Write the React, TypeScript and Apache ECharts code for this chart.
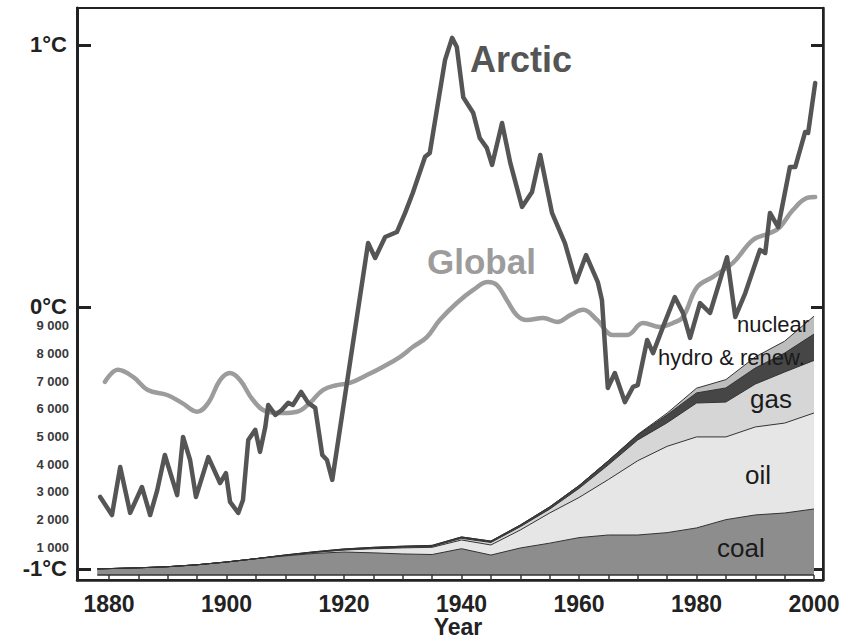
import React, { useEffect, useRef } from "react";
import * as echarts from "echarts";

// ---- Temperature anomalies (°C) ----
const arcticYears = [1878.5, 1880.5, 1881.9, 1883.6, 1885.6, 1887, 1888.2, 1889.5, 1891.6, 1892.6, 1893.8, 1894.8, 1896.9, 1898.9, 1899.9, 1900.6, 1902, 1902.8, 1903.7, 1904.9, 1905.7, 1906.6, 1907.1, 1908.3, 1909.4, 1910.5, 1911.3, 1912.7, 1913.9, 1915.1, 1916.3, 1917.1, 1918, 1924.1, 1925.3, 1927, 1929, 1930.4, 1931.7, 1933.8, 1934.6, 1937.2, 1938.4, 1939.2, 1940.3, 1942, 1943.1, 1944.3, 1945.2, 1946.9, 1948.3, 1950.3, 1952, 1953.4, 1955.4, 1957.6, 1959.5, 1961.2, 1963.2, 1963.9, 1964.9, 1966.1, 1967.8, 1969.2, 1970, 1971.6, 1972.6, 1974.3, 1976.3, 1977.7, 1978.9, 1980.6, 1982.3, 1985.2, 1986.6, 1988.3, 1990.8, 1991.7, 1992.5, 1993.9, 1995.9, 1996.8, 1998.5, 1999, 2000.2];
const arcticTemps = [-0.725, -0.794, -0.611, -0.786, -0.687, -0.794, -0.7, -0.565, -0.718, -0.496, -0.584, -0.725, -0.573, -0.672, -0.634, -0.744, -0.786, -0.737, -0.508, -0.469, -0.553, -0.458, -0.374, -0.412, -0.393, -0.366, -0.374, -0.324, -0.366, -0.385, -0.565, -0.584, -0.66, 0.244, 0.187, 0.267, 0.286, 0.359, 0.435, 0.573, 0.588, 0.943, 1.027, 0.992, 0.8, 0.74, 0.645, 0.607, 0.542, 0.702, 0.55, 0.382, 0.439, 0.58, 0.359, 0.244, 0.095, 0.198, 0.095, 0.027, -0.309, -0.252, -0.363, -0.305, -0.298, -0.126, -0.176, -0.076, 0.038, -0.023, -0.118, 0.015, -0.023, 0.19, -0.038, 0.053, 0.218, 0.206, 0.359, 0.305, 0.534, 0.534, 0.668, 0.664, 0.855];

const globalYears = [1879.3, 1881.5, 1884.1, 1886.6, 1889.9, 1892.4, 1895, 1896.9, 1898.9, 1900.6, 1902.3, 1904.5, 1906.9, 1909.6, 1912, 1914.2, 1916.4, 1918.8, 1921, 1923.9, 1926.6, 1929.5, 1931.7, 1934.1, 1936.3, 1939.2, 1942, 1944.5, 1946, 1947.7, 1949.4, 1951.1, 1953.9, 1956.3, 1958.5, 1960.7, 1963.1, 1965.8, 1968.2, 1970.9, 1973.8, 1976, 1977.7, 1980.1, 1982.8, 1986.2, 1989.6, 1992.5, 1994.2, 1996.4, 1998.8, 2000.2];
const globalTemps = [-0.286, -0.24, -0.267, -0.317, -0.336, -0.366, -0.4, -0.366, -0.279, -0.252, -0.279, -0.355, -0.4, -0.405, -0.4, -0.366, -0.317, -0.298, -0.29, -0.26, -0.229, -0.191, -0.153, -0.115, -0.05, 0.015, 0.065, 0.095, 0.084, 0.027, -0.031, -0.05, -0.042, -0.057, -0.031, -0.011, -0.05, -0.107, -0.107, -0.061, -0.076, -0.061, -0.038, 0.076, 0.115, 0.168, 0.256, 0.282, 0.305, 0.37, 0.416, 0.42];

// ---- World energy consumption by source ----
const energyYears = [1878, 1885, 1890, 1895, 1900, 1905, 1910, 1915, 1920, 1925, 1930, 1935, 1940, 1945, 1950, 1955, 1960, 1965, 1970, 1975, 1980, 1985, 1990, 1995, 2000];
const coal = [220, 260, 300, 370, 470, 590, 690, 780, 830, 800, 760, 740, 950, 720, 975, 1150, 1350, 1445, 1445, 1530, 1700, 2000, 2170, 2240, 2385];
const oil = [0, 0, 0, 0, 0, 0, 20, 40, 70, 150, 220, 260, 315, 365, 650, 1090, 1450, 2005, 2685, 3120, 3290, 2990, 3180, 3250, 3470];
const gas = [0, 0, 0, 0, 0, 0, 0, 0, 15, 20, 25, 30, 60, 90, 120, 140, 330, 530, 750, 850, 1225, 1260, 1550, 1845, 1900];
const hydro = [0, 0, 0, 0, 0, 0, 15, 20, 25, 30, 35, 40, 50, 50, 60, 80, 100, 150, 180, 290, 365, 510, 580, 685, 950];
const nuclear = [0, 0, 0, 0, 0, 0, 0, 0, 0, 0, 0, 0, 0, 0, 0, 0, 0, 0, 20, 60, 170, 300, 400, 430, 650];

const layerNames = ["coal", "oil", "gas", "hydro & renew.", "nuclear"];
const layerColors = ["#8d8d8d", "#e6e6e6", "#d6d6d6", "#464646", "#bdbdbd"];

// ---- Axis ticks / labels ----
const tempTicks = [-1, 0, 1];
const energyTicks = [1000, 2000, 3000, 4000, 5000, 6000, 7000, 8000, 9000];
const yearLabels = [1880, 1900, 1920, 1940, 1960, 1980, 2000];
const yearTicks = [1880, 1885, 1890, 1895, 1900, 1905, 1910, 1915, 1920, 1925, 1930, 1935, 1940, 1945, 1950, 1955, 1960, 1965, 1970, 1975, 1980, 1985, 1990, 1995, 2000];

const FONT = '"Liberation Sans", Arial, Helvetica, sans-serif';

export default function App() {
  const ref = useRef<HTMLDivElement>(null);

  useEffect(() => {
    document.body.style.margin = "0";
    if (!ref.current) return;
    const chart = echarts.init(ref.current, undefined, { renderer: "svg" });

    const layers = [coal, oil, gas, hydro, nuclear];
    const cumulative: number[][] = [];
    layers.forEach((arr, i) => {
      cumulative.push(arr.map((v, k) => v + (i > 0 ? cumulative[i - 1][k] : 0)));
    });

    const energySeries: any[] = [];
    for (let i = layers.length - 1; i >= 0; i--) {
      energySeries.push({
        name: layerNames[i],
        type: "line",
        xAxisIndex: 0,
        yAxisIndex: 1,
        data: energyYears.map((y, k) => [y, cumulative[i][k]]),
        symbol: "none",
        lineStyle: { color: "#333", width: 1 },
        areaStyle: { color: layerColors[i], opacity: 1 },
        z: 1,
        silent: true,
      });
    }
    energySeries.push({
      name: "base",
      type: "line",
      xAxisIndex: 0,
      yAxisIndex: 1,
      data: energyYears.map((y) => [y, 0]),
      symbol: "none",
      lineStyle: { color: "#333", width: 1.5 },
      z: 2,
      silent: true,
    });

    const textStyle = (
      text: string,
      x: number,
      y: number,
      font: string,
      fill: string,
      align = "left"
    ) => ({
      type: "text",
      x,
      y,
      z: 100,
      style: {
        text,
        fill,
        font,
        textAlign: align,
        textVerticalAlign: "middle",
      },
    });

    chart.setOption({
      animation: false,
      backgroundColor: "#ffffff",
      grid: {
        left: 77,
        right: 21,
        top: 8,
        bottom: 62,
        show: true,
        borderColor: "#222",
        borderWidth: 2,
        backgroundColor: "transparent",
      },
      xAxis: {
        type: "value",
        min: 1874.55,
        max: 2001.53,
        axisLine: { show: true, onZero: false, lineStyle: { color: "#222", width: 2.5 } },
        axisTick: {
          show: true,
          inside: true,
          length: 5,
          customValues: yearTicks,
          lineStyle: { color: "#333", width: 1.5 },
        },
        axisLabel: {
          customValues: yearLabels,
          formatter: (v: number) => String(v),
          fontSize: 23,
          fontWeight: "bold",
          fontFamily: FONT,
          color: "#222",
          margin: 12,
        },
        splitLine: { show: false },
      },
      yAxis: [
        {
          type: "value",
          min: -1.042,
          max: 1.141,
          position: "left",
          axisLine: { show: true, onZero: false, lineStyle: { color: "#222", width: 3 } },
          axisTick: {
            show: true,
            inside: true,
            length: 14,
            customValues: tempTicks,
            lineStyle: { color: "#222", width: 3 },
          },
          axisLabel: {
            customValues: tempTicks,
            formatter: (v: number) => `${v}°C`,
            fontSize: 22,
            fontWeight: "bold",
            fontFamily: FONT,
            color: "#222",
            margin: 10,
          },
          splitLine: { show: false },
        },
        {
          type: "value",
          min: -181,
          max: 20491,
          position: "left",
          axisLine: { show: false, onZero: false },
          axisTick: { show: false },
          axisLabel: {
            customValues: energyTicks,
            formatter: (v: number) => String(v).replace(/\B(?=(\d{3})+(?!\d))/g, " "),
            fontSize: 13,
            fontWeight: "bold",
            fontFamily: FONT,
            color: "#3a3a3a",
            margin: 8,
          },
          splitLine: { show: false },
        },
        {
          type: "value",
          min: -1.042,
          max: 1.141,
          position: "right",
          axisLine: { show: true, onZero: false, lineStyle: { color: "#222", width: 2.5 } },
          axisTick: {
            show: true,
            inside: true,
            length: 12,
            customValues: tempTicks,
            lineStyle: { color: "#222", width: 3 },
          },
          axisLabel: { show: false },
          splitLine: { show: false },
        },
      ],
      series: [
        ...energySeries,
        {
          name: "Global",
          type: "line",
          xAxisIndex: 0,
          yAxisIndex: 0,
          data: globalYears.map((y, k) => [y, globalTemps[k]]),
          smooth: 0.4,
          symbol: "none",
          lineStyle: { color: "#9c9c9c", width: 4.5, cap: "round", join: "round" },
          z: 5,
          silent: true,
        },
        {
          name: "Arctic",
          type: "line",
          xAxisIndex: 0,
          yAxisIndex: 0,
          data: arcticYears.map((y, k) => [y, arcticTemps[k]]),
          symbol: "none",
          lineStyle: { color: "#555555", width: 4.5, cap: "round", join: "round" },
          z: 6,
          silent: true,
        },
      ],
      graphic: [
        textStyle("Arctic", 470, 59.5, `bold 36px ${FONT}`, "#555555"),
        textStyle("Global", 427, 261, `bold 35px ${FONT}`, "#9c9c9c"),
        textStyle("nuclear", 737, 324.5, `22px ${FONT}`, "#1a1a1a"),
        textStyle("hydro & renew.", 658, 357.5, `22px ${FONT}`, "#1a1a1a"),
        textStyle("gas", 750, 399, `26px ${FONT}`, "#1a1a1a"),
        textStyle("oil", 745, 475, `26px ${FONT}`, "#1a1a1a"),
        textStyle("coal", 717, 548, `26px ${FONT}`, "#1a1a1a"),
        textStyle("Year", 458, 627, `bold 23px ${FONT}`, "#222222", "center"),
      ],
    });

    return () => chart.dispose();
  }, []);

  return <div ref={ref} style={{ width: 844, height: 642 }} />;
}
